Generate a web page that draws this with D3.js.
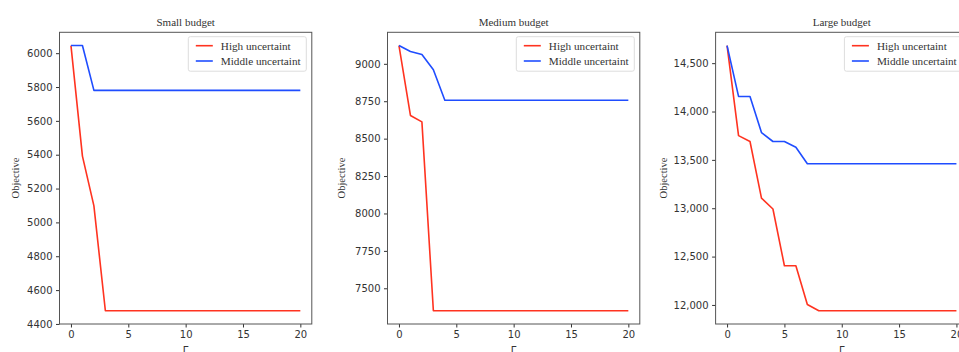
<!DOCTYPE html>
<html>
<head>
<meta charset="utf-8">
<script src="https://cdn.jsdelivr.net/npm/d3@7"></script>
<style>
  body { margin: 0; background: #fff; }
  svg { display: block; }
  .tick text { font-family: "DejaVu Sans", sans-serif; fill: #333; }
  .serif { font-family: "Liberation Serif", "DejaVu Serif", serif; fill: #333; }
</style>
</head>
<body>
<svg id="chart" width="959" height="352"></svg>
<script>
// Gamma values on the x axis
let gamma = [0,1,2,3,4,5,6,7,8,9,10,11,12,13,14,15,16,17,18,19,20];
let seriesNames = ["High uncertaint", "Middle uncertaint"];
let colors = ["#ff3320", "#1f4dff"];

// small budget
let smallHigh   = [6045,5392,5098,4478,4478,4478,4478,4478,4478,4478,4478,4478,4478,4478,4478,4478,4478,4478,4478,4478,4478];
let smallMiddle = [6045,6045,5780,5780,5780,5780,5780,5780,5780,5780,5780,5780,5780,5780,5780,5780,5780,5780,5780,5780,5780];
let smallTicks  = [4400,4600,4800,5000,5200,5400,5600,5800,6000];

// medium budget
let mediumHigh   = [9122,8655,8612,7350,7350,7350,7350,7350,7350,7350,7350,7350,7350,7350,7350,7350,7350,7350,7350,7350,7350];
let mediumMiddle = [9122,9082,9062,8960,8757,8757,8757,8757,8757,8757,8757,8757,8757,8757,8757,8757,8757,8757,8757,8757,8757];
let mediumTicks  = [7500,7750,8000,8250,8500,8750,9000];

// large budget
let largeHigh   = [14682,13751,13690,13105,12992,12405,12405,12005,11940,11940,11940,11940,11940,11940,11940,11940,11940,11940,11940,11940,11940];
let largeMiddle = [14682,14156,14156,13782,13690,13690,13630,13460,13460,13460,13460,13460,13460,13460,13460,13460,13460,13460,13460,13460,13460];
let largeTicks  = [12000,12500,13000,13500,14000,14500];

let xTicks = [0,5,10,15,20];

let chart = d3.select("#chart");

function drawPanel(left, title, high, middle, yTicks, yFormat, labelX) {
    let top = 32.3, bottom = 324, width = 252.3;
    let g = chart.append("g");

    // x scale with matplotlib-like 5% margin
    let x = d3.scaleLinear()
        .domain([-1, 21])
        .range([left, left + width]);

    let all = high.concat(middle);
    let lo = d3.min(all), hi = d3.max(all);
    let pad = (hi - lo) * 0.05;
    let y = d3.scaleLinear()
        .domain([lo - pad, hi + pad])
        .range([bottom, top]);

    // axes
    let xAxis = d3.axisBottom(x).tickValues(xTicks).tickSize(3.5).tickPadding(3.5);
    g.append("g")
        .attr("transform", "translate(0," + bottom + ")")
        .call(xAxis)
        .call(s => s.select(".domain").remove())
        .call(s => s.selectAll(".tick line").attr("stroke", "#333"))
        .call(s => s.selectAll(".tick text").style("font-size", "10px"));

    let yAxis = d3.axisLeft(y).tickValues(yTicks).tickFormat(yFormat).tickSize(3.5).tickPadding(3.5);
    g.append("g")
        .attr("transform", "translate(" + left + ",0)")
        .call(yAxis)
        .call(s => s.select(".domain").remove())
        .call(s => s.selectAll(".tick line").attr("stroke", "#333"))
        .call(s => s.selectAll(".tick text").style("font-size", "10px"));

    // lines
    let line = d3.line()
        .x((d, i) => x(gamma[i]))
        .y(d => y(d));

    [high, middle].forEach(function(series, i) {
        g.append("path")
            .datum(series)
            .attr("d", line)
            .attr("fill", "none")
            .attr("stroke", colors[i])
            .attr("stroke-width", 1.6)
            .attr("stroke-linejoin", "round");
    });

    // frame
    g.append("rect")
        .attr("x", left)
        .attr("y", top)
        .attr("width", width)
        .attr("height", bottom - top)
        .attr("fill", "none")
        .attr("stroke", "#555")
        .attr("stroke-width", 1);

    // title
    g.append("text")
        .attr("class", "serif")
        .attr("x", left + width / 2)
        .attr("y", 26)
        .attr("text-anchor", "middle")
        .style("font-size", "11px")
        .text(title);

    // axis labels
    g.append("text")
        .attr("class", "serif")
        .attr("transform", "translate(" + labelX + "," + 178 + ") rotate(-90)")
        .attr("text-anchor", "middle")
        .style("font-size", "10.5px")
        .text("Objective");

    g.append("text")
        .attr("x", left + width / 2)
        .attr("y", 354)
        .attr("text-anchor", "middle")
        .style("font-family", "DejaVu Sans, sans-serif")
        .style("font-size", "10px")
        .style("fill", "#333")
        .text("Γ");

    // legend, upper right
    let lgRight = left + width - 5.5;
    let lgLeft = lgRight - 118;
    g.append("rect")
        .attr("x", lgLeft)
        .attr("y", 36.7)
        .attr("width", 118)
        .attr("height", 34.5)
        .attr("rx", 2)
        .attr("fill", "#fff")
        .attr("stroke", "#ddd")
        .attr("stroke-width", 1);

    seriesNames.forEach(function(name, i) {
        let ly = 45.7 + i * 15.3;
        g.append("line")
            .attr("x1", lgLeft + 7.5)
            .attr("x2", lgLeft + 24.5)
            .attr("y1", ly)
            .attr("y2", ly)
            .attr("stroke", colors[i])
            .attr("stroke-width", 1.6);
        g.append("text")
            .attr("class", "serif")
            .attr("x", lgLeft + 32.5)
            .attr("y", ly)
            .attr("dy", "0.35em")
            .style("font-size", "11.2px")
            .text(name);
    });
}

drawPanel(59.5, "Small budget", smallHigh, smallMiddle, smallTicks, d3.format("d"), 19);
drawPanel(387.5, "Medium budget", mediumHigh, mediumMiddle, mediumTicks, d3.format("d"), 345);
drawPanel(715.6, "Large budget", largeHigh, largeMiddle, largeTicks, d3.format(","), 667);
</script>
</body>
</html>
